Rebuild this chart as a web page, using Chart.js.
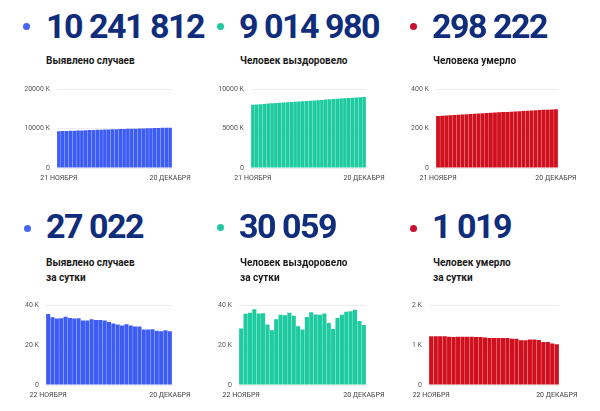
<!DOCTYPE html>
<html>
<head>
<meta charset="utf-8">
<script src="https://cdn.jsdelivr.net/npm/chart.js@4"></script>
<style>
  body { margin: 0; background: #fff; }
  #page { position: relative; width: 600px; height: 411px; overflow: hidden; font-family: Roboto, sans-serif; }
  .dot { position: absolute; width: 7px; height: 7px; border-radius: 50%; }
  .num { position: absolute; font-size: 34px; line-height: 34px; font-weight: 700; color: #102d7c; letter-spacing: -1.5px; white-space: nowrap; }
  .lbl { position: absolute; font-size: 10px; line-height: 15px; font-weight: 700; color: #1a1a1a; white-space: nowrap; }
  canvas { position: absolute; }
</style>
</head>
<body>
<div id="page">
  <div class="dot" style="left:23px;top:23px;background:#4566f2"></div>
  <div class="num" style="left:46px;top:9px">10 241 812</div>
  <div class="lbl" style="left:46px;top:53px">Выявлено случаев</div>
  <canvas id="c1" width="193" height="112" style="left:5px;top:78px"></canvas>

  <div class="dot" style="left:217px;top:23px;background:#1fc9a0"></div>
  <div class="num" style="left:239px;top:9px">9 014 980</div>
  <div class="lbl" style="left:240px;top:53px">Человек выздоровело</div>
  <canvas id="c2" width="192" height="112" style="left:200px;top:78px"></canvas>

  <div class="dot" style="left:410px;top:23px;background:#c8102e"></div>
  <div class="num" style="left:432px;top:9px">298 222</div>
  <div class="lbl" style="left:433px;top:53px">Человека умерло</div>
  <canvas id="c3" width="199" height="112" style="left:385px;top:78px"></canvas>

  <div class="dot" style="left:24px;top:225px;background:#4566f2"></div>
  <div class="num" style="left:46px;top:209px">27 022</div>
  <div class="lbl" style="left:46px;top:255px">Выявлено случаев<br>за сутки</div>
  <canvas id="c4" width="198" height="113" style="left:0px;top:294px"></canvas>

  <div class="dot" style="left:217px;top:224px;background:#1fc9a0"></div>
  <div class="num" style="left:239px;top:209px">30 059</div>
  <div class="lbl" style="left:240px;top:255px">Человек выздоровело<br>за сутки</div>
  <canvas id="c5" width="202" height="113" style="left:190px;top:294px"></canvas>

  <div class="dot" style="left:410px;top:225px;background:#c8102e"></div>
  <div class="num" style="left:432px;top:209px">1 019</div>
  <div class="lbl" style="left:433px;top:255px">Человек умерло<br>за сутки</div>
  <canvas id="c6" width="205" height="113" style="left:380px;top:294px"></canvas>
</div>
<script>
// dates, 21 Nov .. 20 Dec
const dates = [];
for (let d = 21; d <= 30; d++) dates.push(d + " НОЯБРЯ");
for (let d = 1; d <= 20; d++) dates.push(d + " ДЕКАБРЯ");
const dailyDates = dates.slice(1); // 22 Nov .. 20 Dec

// totals, thousands
const totalCases = [9342.4, 9378.0, 9411.9, 9445.2, 9478.6, 9512.8, 9546.4, 9579.7, 9613.1, 9645.4,
  9677.7, 9710.6, 9743.2, 9775.8, 9808.1, 9839.7, 9870.5, 9900.8, 9930.6, 9961.1,
  9990.9, 10020.2, 10049.5, 10077.3, 10105.1, 10133.1, 10160.3, 10187.3, 10214.8, 10241.8];
const totalRecovered = [8037.2, 8065.5, 8101.2, 8137.4, 8175.4, 8211.3, 8247.3, 8277.6, 8305.1, 8338.0,
  8373.2, 8408.1, 8444.3, 8479.0, 8508.5, 8536.3, 8570.4, 8606.9, 8642.3, 8677.5,
  8713.4, 8744.5, 8772.6, 8806.2, 8841.4, 8878.1, 8915.1, 8952.8, 8984.9, 9015.0];
const totalDeaths = [264.41, 265.63, 266.85, 268.07, 269.29, 270.50, 271.70, 272.91, 274.12, 275.33,
  276.54, 277.74, 278.94, 280.13, 281.31, 282.49, 283.67, 284.85, 286.03, 287.19,
  288.35, 289.47, 290.59, 291.73, 292.87, 294.00, 295.08, 296.16, 297.20, 298.22];

// per day, thousands
const dailyCases = [35.6, 33.9, 33.3, 33.4, 34.2, 33.6, 33.3, 33.4, 32.3, 32.3,
  32.9, 32.6, 32.6, 32.3, 31.6, 30.8, 30.3, 29.8, 30.5, 29.8,
  29.3, 29.3, 27.8, 27.8, 28.0, 27.2, 27.0, 27.5, 27.0];
const dailyRecovered = [28.3, 35.7, 36.2, 38.0, 35.9, 36.0, 30.3, 27.5, 32.9, 35.2,
  34.9, 36.2, 34.7, 29.5, 27.8, 34.1, 36.5, 35.4, 35.2, 35.9,
  31.1, 28.1, 33.6, 35.2, 36.7, 37.0, 37.7, 32.1, 30.1];
const dailyDeaths = [1.22, 1.22, 1.22, 1.22, 1.21, 1.20, 1.21, 1.21, 1.21, 1.21,
  1.20, 1.20, 1.19, 1.18, 1.18, 1.18, 1.18, 1.18, 1.16, 1.16,
  1.12, 1.12, 1.14, 1.14, 1.13, 1.08, 1.08, 1.04, 1.02];

const BLUE = "#3d5cf5";
const TEAL = "#1ecba1";
const RED = "#d0101e";

Chart.defaults.font.family = "Roboto, sans-serif";

function barChart(id, labels, values, color, max, step, axisW) {
  const ctx = document.getElementById(id).getContext("2d");
  return new Chart(ctx, {
    type: "bar",
    data: {
      labels,
      datasets: [{ data: values, backgroundColor: color, barPercentage: 0.94, categoryPercentage: 1 }],
    },
    options: {
      responsive: false,
      animation: false,
      layout: { padding: { left: 0, right: 26, top: 8, bottom: 4 } },
      plugins: { legend: { display: false }, tooltip: { enabled: false } },
      scales: {
        x: {
          grid: { display: false, drawTicks: false },
          border: { display: false },
          ticks: {
            autoSkip: false,
            maxRotation: 0,
            padding: 6,
            color: "#444",
            font: { size: 7 },
            callback: function (v, i, ticks) {
              return i === 0 || i === ticks.length - 1 ? this.getLabelForValue(v) : "";
            },
          },
          afterFit: (s) => { s.height = 18; },
        },
        y: {
          min: 0,
          max,
          grid: { color: "#ececec", drawTicks: false },
          border: { display: false },
          ticks: {
            stepSize: step,
            padding: 7,
            color: "#555",
            font: { size: 7 },
            callback: (v) => (v === 0 ? "0" : v + " K"),
          },
          afterFit: (s) => { s.width = axisW; },
        },
      },
    },
  });
}

barChart("c1", dates, totalCases, BLUE, 20000, 10000, 52);
barChart("c2", dates, totalRecovered, TEAL, 10000, 5000, 51);
barChart("c3", dates, totalDeaths, RED, 400, 200, 51);
barChart("c4", dailyDates, dailyCases, BLUE, 40, 20, 46);
barChart("c5", dailyDates, dailyRecovered, TEAL, 40, 20, 49);
barChart("c6", dailyDates, dailyDeaths, RED, 2, 1, 49);
</script>
</body>
</html>
